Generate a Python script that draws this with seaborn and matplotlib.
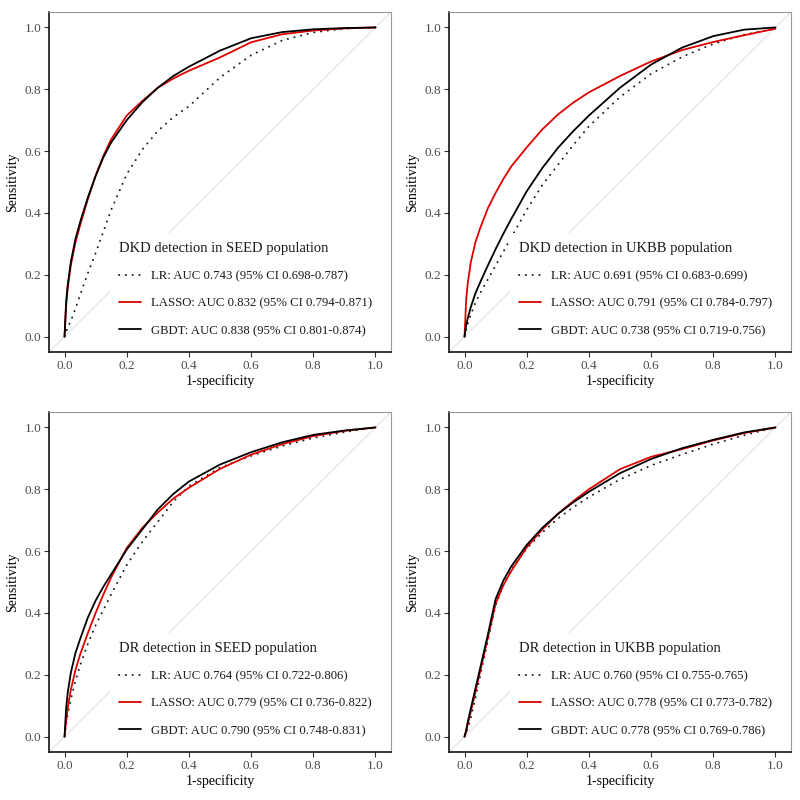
import pandas as pd
import matplotlib
matplotlib.use("Agg")
import matplotlib.pyplot as plt
import seaborn as sns

# false positive rate grid shared by every curve
fpr_grid = [0, 0.005, 0.01, 0.02, 0.035, 0.05, 0.075, 0.1, 0.125, 0.15, 0.2,
            0.25, 0.3, 0.35, 0.4, 0.5, 0.6, 0.7, 0.8, 0.9, 1.0]

# sensitivity per model, one list per panel
dkd_seed_lr = [0, 0.015, 0.03, 0.05, 0.09, 0.135, 0.205, 0.27, 0.34, 0.41, 0.525,
               0.605, 0.665, 0.71, 0.745, 0.838, 0.91, 0.958, 0.984, 0.996, 1.0]
dkd_seed_lasso = [0, 0.10, 0.155, 0.23, 0.305, 0.36, 0.445, 0.52, 0.585, 0.638, 0.715,
                  0.762, 0.805, 0.835, 0.86, 0.903, 0.952, 0.978, 0.99, 0.997, 1.0]
dkd_seed_gbdt = [0, 0.11, 0.165, 0.24, 0.315, 0.37, 0.45, 0.52, 0.58, 0.628, 0.70,
                 0.758, 0.805, 0.843, 0.873, 0.925, 0.965, 0.985, 0.994, 0.998, 1.0]

dkd_ukbb_lr = [0, 0.02, 0.04, 0.07, 0.11, 0.14, 0.185, 0.23, 0.275, 0.32, 0.41,
               0.49, 0.555, 0.62, 0.68, 0.775, 0.85, 0.905, 0.947, 0.977, 0.996]
dkd_ukbb_lasso = [0, 0.115, 0.17, 0.24, 0.305, 0.35, 0.415, 0.465, 0.51, 0.55, 0.612,
                  0.67, 0.718, 0.757, 0.79, 0.843, 0.89, 0.927, 0.953, 0.975, 0.996]
dkd_ukbb_gbdt = [0, 0.035, 0.058, 0.095, 0.14, 0.175, 0.23, 0.283, 0.333, 0.38, 0.47,
                 0.545, 0.61, 0.665, 0.715, 0.805, 0.88, 0.935, 0.972, 0.993, 1.0]

dr_seed_lr = [0, 0.04, 0.07, 0.12, 0.18, 0.23, 0.30, 0.36, 0.41, 0.46, 0.555,
              0.63, 0.695, 0.76, 0.81, 0.87, 0.908, 0.94, 0.966, 0.985, 1.0]
dr_seed_lasso = [0, 0.05, 0.09, 0.15, 0.215, 0.265, 0.335, 0.40, 0.46, 0.515, 0.61,
                 0.675, 0.725, 0.77, 0.805, 0.866, 0.912, 0.946, 0.972, 0.989, 1.0]
dr_seed_gbdt = [0, 0.09, 0.14, 0.205, 0.27, 0.315, 0.385, 0.44, 0.485, 0.525, 0.605,
                0.67, 0.735, 0.785, 0.825, 0.88, 0.92, 0.952, 0.976, 0.99, 1.0]

dr_ukbb_lr = [0, 0.01, 0.025, 0.06, 0.125, 0.195, 0.31, 0.425, 0.49, 0.54, 0.608,
              0.66, 0.705, 0.742, 0.775, 0.832, 0.877, 0.913, 0.946, 0.975, 1.0]
dr_ukbb_lasso = [0, 0.015, 0.04, 0.08, 0.145, 0.21, 0.32, 0.43, 0.49, 0.535, 0.612,
                 0.67, 0.72, 0.762, 0.80, 0.865, 0.905, 0.93, 0.958, 0.982, 1.0]
dr_ukbb_gbdt = [0, 0.02, 0.045, 0.09, 0.155, 0.22, 0.33, 0.445, 0.505, 0.55, 0.62,
                0.675, 0.72, 0.758, 0.792, 0.852, 0.898, 0.933, 0.96, 0.984, 1.0]

titles = ["DKD detection in SEED population", "DKD detection in UKBB population",
          "DR detection in SEED population", "DR detection in UKBB population"]
lr_labels = ["LR: AUC 0.743 (95% CI 0.698-0.787)", "LR: AUC 0.691 (95% CI 0.683-0.699)",
             "LR: AUC 0.764 (95% CI 0.722-0.806)", "LR: AUC 0.760 (95% CI 0.755-0.765)"]
lasso_labels = ["LASSO: AUC 0.832 (95% CI 0.794-0.871)", "LASSO: AUC 0.791 (95% CI 0.784-0.797)",
                "LASSO: AUC 0.779 (95% CI 0.736-0.822)", "LASSO: AUC 0.778 (95% CI 0.773-0.782)"]
gbdt_labels = ["GBDT: AUC 0.838 (95% CI 0.801-0.874)", "GBDT: AUC 0.738 (95% CI 0.719-0.756)",
               "GBDT: AUC 0.790 (95% CI 0.748-0.831)", "GBDT: AUC 0.778 (95% CI 0.769-0.786)"]

panels = [(dkd_seed_lr, dkd_seed_lasso, dkd_seed_gbdt),
          (dkd_ukbb_lr, dkd_ukbb_lasso, dkd_ukbb_gbdt),
          (dr_seed_lr, dr_seed_lasso, dr_seed_gbdt),
          (dr_ukbb_lr, dr_ukbb_lasso, dr_ukbb_gbdt)]

sns.set_theme(style="white")
plt.rcParams["font.family"] = ["Liberation Serif", "DejaVu Serif"]

fig = plt.figure(figsize=(8, 8), dpi=100)

for i, (lr, lasso, gbdt) in enumerate(panels):
    col, row = i % 2, i // 2
    ax = fig.add_axes([(col * 400 + 49) / 800, (800 - (row * 400 + 352)) / 800,
                       342 / 800, 340 / 800])

    # reference diagonal
    ax.axline((0, 0), (1, 1), color="#e6e6e6", lw=0.9, zorder=0)

    sns.lineplot(x=fpr_grid, y=lr, ax=ax, color="#1a1a1a", lw=1.4,
                 linestyle=(0, (0.1, 3.4)), dash_capstyle="round",
                 label=lr_labels[i], sort=False, estimator=None)
    sns.lineplot(x=fpr_grid, y=lasso, ax=ax, color="#e00000", lw=1.3,
                 label=lasso_labels[i], sort=False, estimator=None)
    sns.lineplot(x=fpr_grid, y=gbdt, ax=ax, color="black", lw=1.3,
                 label=gbdt_labels[i], sort=False, estimator=None)

    ax.set_xlim(-0.05, 1.05)
    ax.set_ylim(-0.05, 1.05)
    ax.set_xticks([0, 0.2, 0.4, 0.6, 0.8, 1.0])
    ax.set_yticks([0, 0.2, 0.4, 0.6, 0.8, 1.0])
    ax.tick_params(axis="both", which="both", direction="out", length=3.5, width=0.8,
                   color="#333333", labelcolor="#4d4d4d", labelsize=9.5, pad=2,
                   bottom=True, left=True)
    ax.set_xlabel("1-specificity", fontsize=10, color="black", labelpad=2)
    ax.set_ylabel("Sensitivity", fontsize=10, color="black", labelpad=4)

    for side in ["left", "bottom"]:
        ax.spines[side].set_color("black")
        ax.spines[side].set_linewidth(1.1)
    for side in ["top", "right"]:
        ax.spines[side].set_color("#9a9a9a")
        ax.spines[side].set_linewidth(0.8)

    leg = ax.legend(title=titles[i], loc="upper left", bbox_to_anchor=(0.178, 0.350),
                    frameon=True, facecolor="white", edgecolor="none", framealpha=1,
                    fancybox=False, fontsize=9.2, title_fontsize=10.5,
                    handlelength=1.7, handletextpad=0.85, labelspacing=1.2,
                    borderpad=0.7, borderaxespad=0, alignment="left")
    leg.get_title().set_color("#1a1a1a")
    for t in leg.get_texts():
        t.set_color("#1a1a1a")

fig.savefig("out.png", dpi=100, facecolor="white")
